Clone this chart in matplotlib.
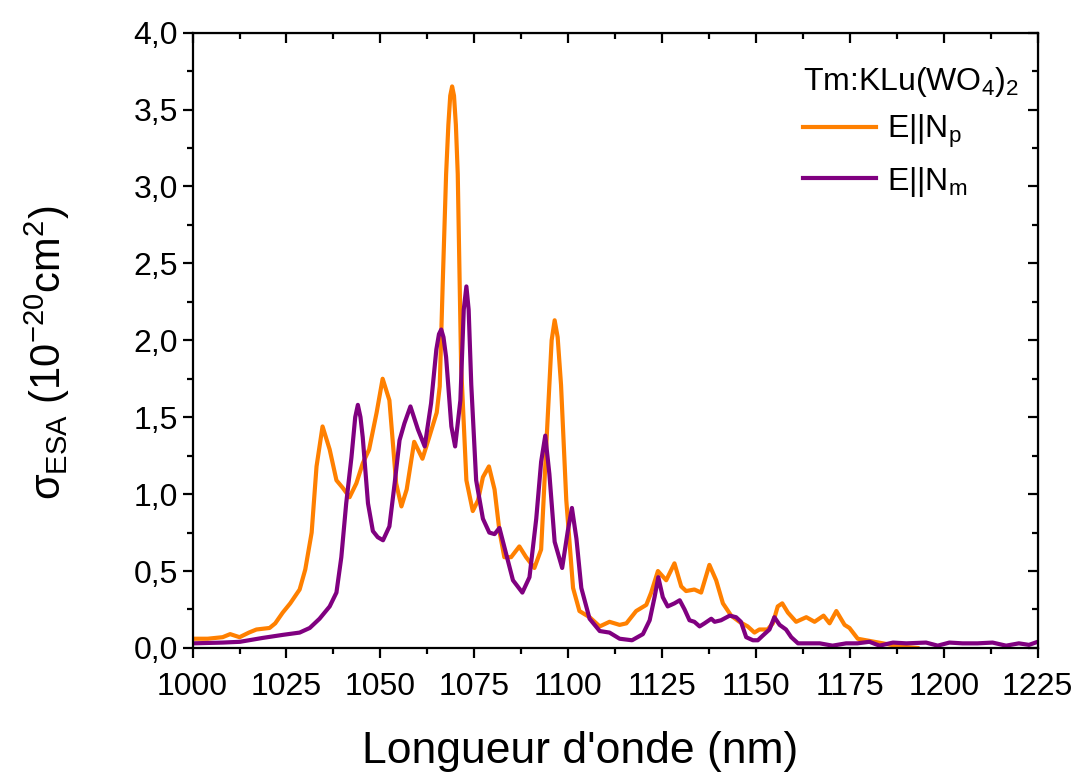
import numpy as np
import matplotlib
matplotlib.use('Agg')
import matplotlib.pyplot as plt
from matplotlib.ticker import MultipleLocator, FuncFormatter

plt.rcParams['font.family'] = ['Liberation Sans', 'DejaVu Sans']
plt.rcParams['mathtext.fontset'] = 'custom'
plt.rcParams['mathtext.rm'] = 'Liberation Sans'
plt.rcParams['mathtext.it'] = 'Liberation Sans'
plt.rcParams['mathtext.sf'] = 'Liberation Sans'

# E||Np (orange)
wl_np = [1000, 1004, 1008, 1010, 1012.5, 1015, 1017, 1020.5, 1022, 1024, 1026, 1028.5,
         1030, 1031.7, 1033, 1034.6, 1036.5, 1038.3, 1040, 1041.8, 1043.6, 1045.3, 1047,
         1049, 1050.6, 1052.4, 1054.2, 1055.6, 1057, 1059, 1061.2, 1063, 1065, 1065.8,
         1066.6, 1067.5, 1068.1, 1068.6, 1069.1, 1069.6, 1070.1, 1070.6, 1071.5, 1072.9,
         1074.6, 1076, 1077.3, 1078.9, 1080.4, 1081.7, 1083, 1084.8, 1087, 1088.8, 1091,
         1092.8, 1094.2, 1095.6, 1096.4, 1097.2, 1098.1, 1099.5, 1101.3, 1103, 1105.7,
         1108.4, 1111, 1113.7, 1115.5, 1118.1, 1120.8, 1122.1, 1123.9, 1126.1, 1128.3,
         1130.1, 1131.4, 1133.6, 1135.4, 1137.6, 1139.4, 1141.2, 1143.4, 1145.6, 1147.8,
         1149.6, 1150.9, 1153.1, 1154.5, 1155.8, 1157, 1158.5, 1160.7, 1163.4, 1165.6,
         1168, 1169.6, 1171.4, 1173.6, 1174.9, 1177.1, 1179.3, 1183.8, 1188.2, 1193]
sig_np = [0.06, 0.06, 0.07, 0.09, 0.07, 0.10, 0.12, 0.13, 0.16, 0.23, 0.29, 0.38,
          0.51, 0.75, 1.18, 1.44, 1.29, 1.09, 1.04, 0.98, 1.07, 1.20, 1.29,
          1.53, 1.75, 1.61, 1.07, 0.92, 1.03, 1.34, 1.23, 1.37, 1.53, 1.70,
          2.37, 3.08, 3.40, 3.59, 3.65, 3.59, 3.40, 3.08, 1.83, 1.09,
          0.89, 0.96, 1.11, 1.18, 1.03, 0.76, 0.59, 0.59, 0.66, 0.59, 0.52,
          0.64, 1.33, 2.00, 2.13, 2.02, 1.71, 0.96, 0.39, 0.24, 0.20,
          0.14, 0.17, 0.15, 0.16, 0.24, 0.28, 0.36, 0.50, 0.44, 0.55,
          0.40, 0.37, 0.38, 0.36, 0.54, 0.44, 0.29, 0.21, 0.17, 0.14,
          0.10, 0.12, 0.12, 0.16, 0.27, 0.29, 0.23, 0.17, 0.20, 0.17,
          0.21, 0.16, 0.24, 0.15, 0.13, 0.06, 0.05, 0.03, 0.01, 0.0]

# E||Nm (purple)
wl_nm = [1000, 1008, 1012.6, 1018.6, 1024, 1028.5, 1031.2, 1033.8, 1036.5, 1038.3, 1039.6,
         1040.9, 1042.3, 1043.3, 1044, 1044.7, 1045.3, 1046.7, 1048, 1049.3, 1050.7, 1052.4,
         1053.8, 1055.1, 1056.4, 1058, 1060, 1061.8, 1063.5, 1064.9, 1065.6, 1066.2, 1066.8,
         1067.5, 1068.9, 1069.9, 1071.3, 1072.2, 1072.9, 1073.5, 1074.2, 1075.5, 1077.3,
         1079, 1080.4, 1081.7, 1083.5, 1085.3, 1087.8, 1089.7, 1091.5, 1092.8, 1093.9,
         1095, 1096.4, 1098.4, 1099.9, 1101, 1102.2, 1103.5, 1105.7, 1108.4, 1111, 1113.7,
         1117, 1119.9, 1121.7, 1123, 1124, 1125.2, 1126.5, 1128.3, 1129.7, 1131, 1132.3,
         1133.6, 1135, 1136.3, 1138.1, 1139, 1140.7, 1143, 1144.7, 1146, 1147.4, 1149.2,
         1150.5, 1151.8, 1153.6, 1154.9, 1156.3, 1158, 1159.4, 1161.2, 1163.4, 1167, 1170.4,
         1174, 1177, 1180.2, 1182.9, 1186.5, 1190, 1195.3, 1198.4, 1201.5, 1205, 1209, 1213,
         1216.6, 1220, 1222.7, 1225]
sig_nm = [0.03, 0.035, 0.04, 0.065, 0.085, 0.10, 0.13, 0.19, 0.27, 0.36, 0.59,
          0.94, 1.24, 1.50, 1.58, 1.50, 1.37, 0.94, 0.76, 0.72, 0.70, 0.79,
          1.07, 1.35, 1.46, 1.57, 1.42, 1.31, 1.59, 1.94, 2.04, 2.07, 2.02,
          1.89, 1.44, 1.31, 1.61, 2.20, 2.35, 2.20, 1.71, 1.09, 0.84,
          0.75, 0.74, 0.78, 0.61, 0.44, 0.36, 0.46, 0.84, 1.21, 1.38,
          1.13, 0.69, 0.52, 0.76, 0.91, 0.71, 0.39, 0.19, 0.11, 0.10, 0.06,
          0.05, 0.09, 0.18, 0.33, 0.46, 0.33, 0.27, 0.29, 0.31, 0.25, 0.18,
          0.17, 0.14, 0.16, 0.19, 0.17, 0.18, 0.21, 0.20, 0.17, 0.07, 0.05,
          0.05, 0.08, 0.12, 0.20, 0.15, 0.12, 0.07, 0.03, 0.03, 0.03, 0.015,
          0.03, 0.03, 0.04, 0.015, 0.035, 0.03, 0.035, 0.015, 0.035, 0.03, 0.03, 0.035,
          0.015, 0.03, 0.02, 0.04]

fig = plt.figure(figsize=(10.82, 7.76), dpi=100)
ax = fig.add_axes([0.178, 0.165, 0.781, 0.793])

ax.plot(wl_np, sig_np, color='#FF8000', linewidth=3.0, solid_joinstyle='round',
        label='E||N$_\\mathrm{p}$')
ax.plot(wl_nm, sig_nm, color='#800080', linewidth=3.0, solid_joinstyle='round',
        label='E||N$_\\mathrm{m}$')

ax.set_xlim(1000, 1225)
ax.set_ylim(0, 4.0)
ax.xaxis.set_major_locator(MultipleLocator(25))
ax.xaxis.set_minor_locator(MultipleLocator(12.5))
ax.yaxis.set_major_locator(MultipleLocator(0.5))
ax.yaxis.set_minor_locator(MultipleLocator(0.25))
ax.yaxis.set_major_formatter(FuncFormatter(lambda v, p: f'{v:.1f}'.replace('.', ',')))

for s in ax.spines.values():
    s.set_linewidth(1.6)
ax.tick_params(which='both', direction='out', width=1.6, labelsize=23, top=False, right=False)
ax.tick_params(which='major', length=7)
ax.tick_params(which='minor', length=4)
ax.tick_params(axis='x', which='major', pad=10)

# mirrored ticks on top/right pointing inward
ax2 = ax.secondary_xaxis('top')
ax2.xaxis.set_major_locator(MultipleLocator(25))
ax2.xaxis.set_minor_locator(MultipleLocator(12.5))
ax2.tick_params(which='both', direction='in', width=1.6, labeltop=False)
ax2.tick_params(which='major', length=7)
ax2.tick_params(which='minor', length=4)
ax3 = ax.secondary_yaxis('right')
ax3.yaxis.set_major_locator(MultipleLocator(0.5))
ax3.yaxis.set_minor_locator(MultipleLocator(0.25))
ax3.tick_params(which='both', direction='in', width=1.6, labelright=False)
ax3.tick_params(which='major', length=7)
ax3.tick_params(which='minor', length=4)

ax.set_xlabel("Longueur d'onde (nm)", fontsize=32)
ax.xaxis.set_label_coords(0.458, -0.135)
ax.set_ylabel('$\\sigma_\\mathrm{ESA}$ (10$^{-20}$cm$^2$)', fontsize=30)
ax.yaxis.set_label_coords(-0.143, 0.48)

leg = ax.legend(title='Tm:KLu(WO$_4$)$_2$', loc='upper left', bbox_to_anchor=(0.722, 0.948),
                frameon=False, fontsize=23, title_fontsize=23, handlelength=2.3,
                handletextpad=0.35, borderaxespad=0, borderpad=0, labelspacing=0.45)
leg._legend_box.align = 'left'

plt.savefig('out.png', dpi=100)
